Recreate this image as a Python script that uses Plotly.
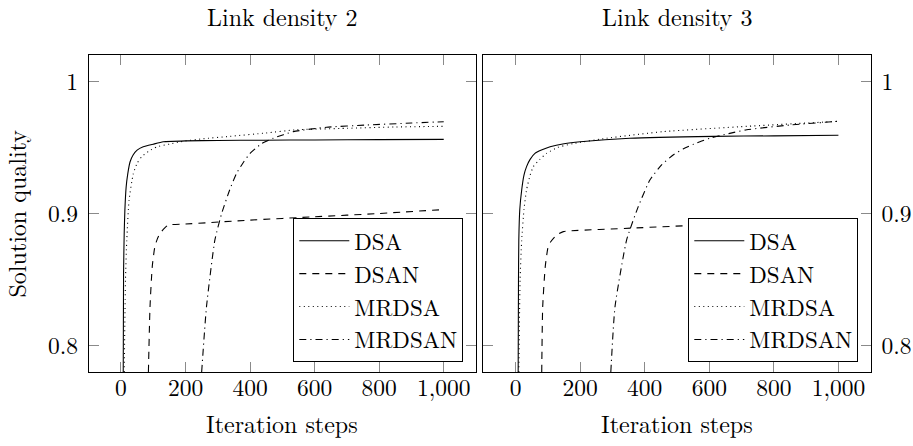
import plotly.graph_objects as go

# ---------------- data ----------------
series_names = ["DSA", "DSAN", "MRDSA", "MRDSAN"]
panel_titles = ["Link density 2", "Link density 3"]
x_tick_vals = [0, 200, 400, 600, 800, 1000]
y_tick_vals = [0.8, 0.9, 1.0]
y_tick_text = ["0.8", "0.9", "1"]

# Link density 2
d2_dsa_x = [7, 8, 10, 12, 16, 21, 28, 38, 50, 69, 100, 131, 200, 300, 441, 600, 800, 1000]
d2_dsa_y = [0.78, 0.855, 0.885, 0.902, 0.920, 0.930, 0.939, 0.9445, 0.948, 0.9505, 0.9525, 0.9543, 0.9550, 0.9553, 0.9555, 0.9557, 0.9559, 0.9561]
d2_dsan_x = [85, 90, 97, 105, 113, 121, 135, 147, 200, 400, 600, 800, 1000]
d2_dsan_y = [0.78, 0.8295, 0.860, 0.8749, 0.881, 0.885, 0.889, 0.8913, 0.892, 0.895, 0.8975, 0.900, 0.903]
d2_mrdsa_x = [10, 14, 18, 25, 38, 50, 64, 85, 111, 150, 183, 250, 338, 450, 544, 700, 850, 1000]
d2_mrdsa_y = [0.78, 0.850, 0.880, 0.910, 0.930, 0.938, 0.943, 0.947, 0.9505, 0.9525, 0.9543, 0.9565, 0.9584, 0.961, 0.9634, 0.9645, 0.9655, 0.966]
d2_mrdsan_x = [250, 265, 291, 312, 337, 358, 380, 400, 436, 472, 534, 637, 762, 900, 1000]
d2_mrdsan_y = [0.78, 0.8295, 0.880, 0.900, 0.918, 0.9304, 0.939, 0.9455, 0.953, 0.957, 0.962, 0.9653, 0.967, 0.9685, 0.9695]

# Link density 3
d3_dsa_x = [8, 9, 10, 13, 19, 26, 34, 45, 60, 80, 107, 150, 200, 354, 613, 800, 1000]
d3_dsa_y = [0.78, 0.850, 0.880, 0.903, 0.918, 0.929, 0.9355, 0.941, 0.9455, 0.948, 0.9505, 0.9528, 0.9543, 0.957, 0.9584, 0.9588, 0.9592]
d3_dsan_x = [81, 84, 92, 101, 110, 122, 135, 148, 365, 600, 800, 1000]
d3_dsan_y = [0.78, 0.8295, 0.860, 0.8749, 0.879, 0.8825, 0.8848, 0.8863, 0.889, 0.8915, 0.8935, 0.8958]
d3_mrdsa_x = [10, 14, 19, 26, 34, 45, 55, 75, 96, 130, 179, 282, 458, 716, 1000]
d3_mrdsa_y = [0.78, 0.850, 0.880, 0.903, 0.918, 0.929, 0.9355, 0.941, 0.9455, 0.950, 0.953, 0.957, 0.962, 0.966, 0.9698]
d3_mrdsan_x = [295, 308, 344, 380, 416, 453, 489, 520, 551, 602, 660, 716, 850, 1000]
d3_mrdsan_y = [0.78, 0.8295, 0.880, 0.9052, 0.9253, 0.937, 0.9445, 0.9490, 0.9525, 0.957, 0.9605, 0.9634, 0.967, 0.9698]

panels = [
    [(d2_dsa_x, d2_dsa_y), (d2_dsan_x, d2_dsan_y), (d2_mrdsa_x, d2_mrdsa_y), (d2_mrdsan_x, d2_mrdsan_y)],
    [(d3_dsa_x, d3_dsa_y), (d3_dsan_x, d3_dsan_y), (d3_mrdsa_x, d3_mrdsa_y), (d3_mrdsan_x, d3_mrdsan_y)],
]

# ---------------- style ----------------
W, H = 913, 446
FONT = "Latin Modern Roman"
dashes = {"DSA": "solid", "DSAN": "7px,6px", "MRDSA": "1px,3.5px", "MRDSAN": "7px,4px,1.2px,4px"}

fig = go.Figure()
for p, data in enumerate(panels):
    xa = "x" if p == 0 else "x2"
    ya = "y" if p == 0 else "y2"
    lg = "legend" if p == 0 else "legend2"
    for name, (xs, ys) in zip(series_names, data):
        fig.add_trace(go.Scatter(
            x=xs, y=ys, mode="lines", name=name, xaxis=xa, yaxis=ya, legend=lg,
            line=dict(color="black", width=1.1, dash=dashes[name], shape="spline", smoothing=0.5),
            hoverinfo="skip",
        ))

def px_x(v):
    return v / W

def px_y(v):
    return 1 - v / H

left_dom = [px_x(88.7), px_x(476)]
right_dom = [px_x(483.3), px_x(870.7)]
y_dom = [px_y(372), px_y(55)]

xaxis_common = dict(
    range=[-100, 1100], tickvals=x_tick_vals, tickformat=",d",
    showline=True, linecolor="black", linewidth=1, mirror="ticks",
    ticks="inside", ticklen=10, tickwidth=1, tickcolor="#8a8a8a",
    showgrid=False, zeroline=False, automargin=False,
    tickfont=dict(family=FONT, size=23.5, color="black"),
    ticklabelstandoff=-5,
)
yaxis_common = dict(
    range=[0.78, 1.02], tickvals=y_tick_vals, ticktext=y_tick_text,
    showline=True, linecolor="black", linewidth=1, mirror="ticks",
    ticks="inside", ticklen=10, tickwidth=1, tickcolor="#8a8a8a",
    showgrid=False, zeroline=False, automargin=False,
    tickfont=dict(family=FONT, size=23.5, color="black"),
    ticklabelstandoff=5,
)

legend_common = dict(
    bgcolor="white", bordercolor="black", borderwidth=1,
    font=dict(family=FONT, size=23, color="black"),
    xanchor="right", yanchor="bottom", itemwidth=50, tracegroupgap=0,
)

fig.update_layout(
    width=W, height=H,
    margin=dict(l=0, r=0, t=0, b=0),
    paper_bgcolor="white", plot_bgcolor="white",
    xaxis=dict(domain=left_dom, anchor="y", **xaxis_common),
    yaxis=dict(domain=y_dom, anchor="x", side="left", **yaxis_common),
    xaxis2=dict(domain=right_dom, anchor="y2", **xaxis_common),
    yaxis2=dict(domain=y_dom, anchor="x2", side="right", **yaxis_common),
    legend=dict(x=px_x(463.3), y=px_y(362.3), **legend_common),
    legend2=dict(x=px_x(858.3), y=px_y(362.3), **legend_common),
    showlegend=True,
)

ann_font = dict(family=FONT, size=24, color="black")
centers = [(left_dom[0] + left_dom[1]) / 2, (right_dom[0] + right_dom[1]) / 2]
for c, t in zip(centers, panel_titles):
    fig.add_annotation(text=t, x=c, y=px_y(16), xref="paper", yref="paper",
                       xanchor="center", yanchor="middle", showarrow=False, font=ann_font)
    fig.add_annotation(text="Iteration steps", x=c, y=px_y(423), xref="paper", yref="paper",
                       xanchor="center", yanchor="middle", showarrow=False, font=ann_font)
fig.add_annotation(text="Solution quality", x=px_x(15), y=(y_dom[0] + y_dom[1]) / 2,
                   xref="paper", yref="paper", xanchor="center", yanchor="middle",
                   textangle=-90, showarrow=False, font=ann_font)

fig.write_html("out.html")
